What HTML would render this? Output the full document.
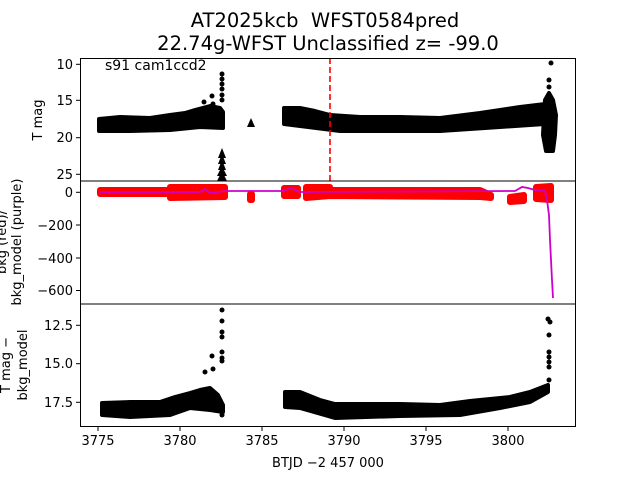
<!DOCTYPE html>
<html><head><meta charset="utf-8"><style>
body{margin:0;background:#fff;width:640px;height:480px;overflow:hidden}
text{font-family:"DejaVu Sans","Liberation Sans",sans-serif}
</style></head><body>
<svg width="640" height="480" viewBox="0 0 640 480" xmlns="http://www.w3.org/2000/svg">
<rect width="640" height="480" fill="#fff"/>
<text x="325" y="27" font-size="19.5" text-anchor="middle">AT2025kcb&#160; WFST0584pred</text>
<text x="328" y="50" font-size="19.5" text-anchor="middle">22.74g-WFST Unclassified z= -99.0</text>

<!-- Panel 1 -->
<g fill="#000" stroke="#000" stroke-width="4" stroke-linejoin="round">
<polygon points="99,119 120,117 150,118 170,115 185,113 195,110 210,106 220,108 223,112 223,128 200,127 170,130 130,131 99,131"/>
<polygon points="284,108 300,108 315,111 330,115 360,117 400,117 440,118 480,113 520,107 545,104 545,124 500,127 440,131 340,131 300,126 284,124"/>
<polygon points="545,100 549,93 553,100 556,115 555,135 553,151 546,151 543,135 544,115"/>
</g>
<g fill="#000">
<circle cx="222" cy="74" r="2.5"/><circle cx="222" cy="79" r="2.5"/><circle cx="222" cy="84" r="2.5"/><circle cx="222" cy="89" r="2.5"/><circle cx="222" cy="95" r="2.5"/><circle cx="222" cy="100" r="2.5"/><circle cx="212" cy="96" r="2.5"/><circle cx="204" cy="102" r="2.5"/><circle cx="213" cy="104" r="2.5"/>
<circle cx="551" cy="63" r="2.5"/><circle cx="549" cy="80" r="2.5"/><circle cx="549" cy="87" r="2.5"/>
<polygon points="247,127 251,118 255,127"/>
<polygon points="218,158 222,148 226,158"/><polygon points="218,164 222,154 226,164"/><polygon points="218,170 222,160 226,170"/><polygon points="217,176 222,166 227,176"/><polygon points="217,181 222,171 227,181"/>
</g>
<line x1="330" y1="58" x2="330" y2="181" stroke="#f00" stroke-width="1.6" stroke-dasharray="6,3"/>
<text x="105" y="70" font-size="14">s91 cam1ccd2</text>

<!-- Panel 2 -->
<g fill="#f00" stroke="#f00" stroke-width="6" stroke-linejoin="round">
<polygon points="100,190 170,190 170,187 225,187 225,197 170,198 170,194 100,194"/>
<polygon points="284,188 298,188 298,196 284,196"/>
<polygon points="306,187 330,187 330,190 480,190 491,195 491,198 480,197 330,196 306,198"/>
<polygon points="510,197 524,195 524,201 510,202"/>
<polygon points="536,187 551,186 551,200 536,199"/>
<rect x="250" y="194" width="2" height="6"/>
</g>
<polyline fill="none" stroke="#c0c" stroke-width="1.8" points="99,192 200,192 205,189 210,193 218,192 225,191 283,191 288,189 293,189 300,192 515,191 522,187 528,188 535,190 545,191 547,200 549,215 550,240 551,260 552,280 553,298"/>

<!-- Panel 3 -->
<g fill="#000" stroke="#000" stroke-width="4" stroke-linejoin="round">
<polygon points="102,403 130,402 160,402 175,397 190,393 200,390 210,388 218,395 223,405 223,412 210,410 190,408 170,415 130,417 102,415"/>
<polygon points="285,392 300,392 320,400 335,404 400,404 440,405 470,401 510,397 530,392 548,385 548,392 530,402 500,408 460,415 400,416 335,418 300,408 285,407"/>
</g>
<g fill="#000">
<circle cx="222" cy="310" r="2.5"/><circle cx="222" cy="321" r="2.5"/><circle cx="222" cy="332" r="2.5"/><circle cx="222" cy="337" r="2.5"/><circle cx="222" cy="352" r="2.5"/><circle cx="222" cy="358" r="2.5"/><circle cx="222" cy="361" r="2.5"/><circle cx="212" cy="356" r="2.5"/><circle cx="213" cy="369" r="2.5"/><circle cx="205" cy="372" r="2.5"/><circle cx="222" cy="415" r="2.5"/>
<circle cx="548" cy="319" r="2.5"/><circle cx="550" cy="322" r="2.5"/><circle cx="549" cy="335" r="2.5"/><circle cx="549" cy="352" r="2.5"/><circle cx="549" cy="357" r="2.5"/><circle cx="549" cy="362" r="2.5"/><circle cx="549" cy="367" r="2.5"/><circle cx="549" cy="380" r="2.5"/>
</g>

<!-- Axes frames -->
<g fill="none" stroke="#000" stroke-width="1">
<rect x="80.5" y="58.5" width="495" height="122.5"/>
<rect x="80.5" y="181" width="495" height="123"/>
<rect x="80.5" y="304" width="495" height="122.5"/>
</g>
<g stroke="#000" stroke-width="1">
<line x1="76" y1="64.3" x2="80" y2="64.3"/><line x1="76" y1="100.3" x2="80" y2="100.3"/><line x1="76" y1="137.7" x2="80" y2="137.7"/><line x1="76" y1="174.3" x2="80" y2="174.3"/>
<line x1="76" y1="192.3" x2="80" y2="192.3"/><line x1="76" y1="225" x2="80" y2="225"/><line x1="76" y1="258" x2="80" y2="258"/><line x1="76" y1="290.5" x2="80" y2="290.5"/>
<line x1="76" y1="325.3" x2="80" y2="325.3"/><line x1="76" y1="363.7" x2="80" y2="363.7"/><line x1="76" y1="402.3" x2="80" y2="402.3"/>
<line x1="98" y1="427" x2="98" y2="431"/><line x1="180" y1="427" x2="180" y2="431"/><line x1="262" y1="427" x2="262" y2="431"/><line x1="344" y1="427" x2="344" y2="431"/><line x1="426" y1="427" x2="426" y2="431"/><line x1="508" y1="427" x2="508" y2="431"/>
</g>
<g font-size="13" text-anchor="end">
<text x="73" y="69">10</text><text x="73" y="105">15</text><text x="73" y="142">20</text><text x="73" y="179">25</text>
<text x="73" y="197">0</text><text x="73" y="230">−200</text><text x="73" y="263">−400</text><text x="73" y="295">−600</text>
<text x="73" y="330">12.5</text><text x="73" y="368">15.0</text><text x="73" y="407">17.5</text>
</g>
<g font-size="13" text-anchor="middle">
<text x="98" y="445">3775</text><text x="180" y="445">3780</text><text x="262" y="445">3785</text><text x="344" y="445">3790</text><text x="426" y="445">3795</text><text x="508" y="445">3800</text>
<text x="328" y="467">BTJD −2 457 000</text>
</g>
<g font-size="13" text-anchor="middle">
<text transform="translate(42,120) rotate(-90)">T mag</text>
<text transform="translate(6,242) rotate(-90)">bkg (red)/</text>
<text transform="translate(21,242) rotate(-90)">bkg_model (purple)</text>
<text transform="translate(10,365) rotate(-90)">T mag −</text>
<text transform="translate(27,365) rotate(-90)">bkg_model</text>
</g>
</svg>
</body></html>
